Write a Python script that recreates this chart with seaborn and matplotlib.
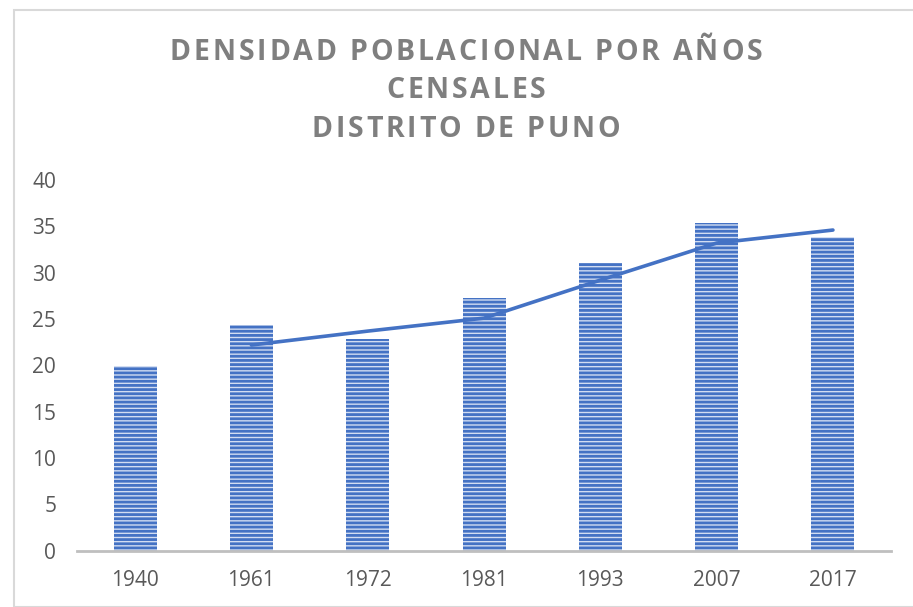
import numpy as np
import matplotlib
matplotlib.use("Agg")
import matplotlib.pyplot as plt
from matplotlib.patches import Rectangle
from matplotlib.textpath import TextToPath
from matplotlib.font_manager import FontProperties
import seaborn as sns

# Census years and population density (hab/km²), Distrito de Puno
years = ["1940", "1961", "1972", "1981", "1993", "2007", "2017"]
density = [19.9, 24.4, 22.9, 27.3, 31.0, 35.4, 33.9]

# Moving-average trend line (from 1961 onward)
trend_years = ["1961", "1972", "1981", "1993", "2007", "2017"]
trend = [22.2, 23.7, 25.1, 29.2, 33.2, 34.6]

title_lines = ["DENSIDAD POBLACIONAL POR AÑOS", "CENSALES", "DISTRITO DE PUNO"]
yticks = [0, 5, 10, 15, 20, 25, 30, 35, 40]

BLUE = "#4472c4"
TEXT_GRAY = "#595959"
TITLE_GRAY = "#7f7f7f"

sns.set_theme(style="white")
plt.rcParams["font.family"] = ["Open Sans", "DejaVu Sans"]
plt.rcParams["hatch.linewidth"] = 2.0

fig = plt.figure(figsize=(9.13, 6.07), dpi=100)
ax = fig.add_axes([0.0843, 0.0925, 0.8917, 0.611])

sns.barplot(x=years, y=density, width=0.37, color="#d2ddf2", saturation=1,
            ax=ax, zorder=2)
for bar in ax.patches:
    bar.set_hatch("----")
    bar.set_edgecolor(BLUE)
    bar.set_linewidth(0)

pos = [years.index(y) for y in trend_years]
sns.lineplot(x=pos, y=trend, color=BLUE, linewidth=2.6, ax=ax, zorder=3,
             solid_capstyle="round")

ax.set_xlim(-0.5, len(years) - 0.5)
ax.set_ylim(0, 40)
ax.set_yticks(yticks)
ax.set_yticklabels([str(v) for v in yticks])
ax.set_xticks(range(len(years)))
ax.set_xticklabels(years)
ax.tick_params(axis="both", length=0, labelsize=15, labelcolor=TEXT_GRAY)
ax.tick_params(axis="y", pad=15)
ax.tick_params(axis="x", pad=14)
ax.set_xlabel("")
ax.set_ylabel("")
ax.grid(False)
for side in ["top", "right", "left"]:
    ax.spines[side].set_visible(False)
ax.spines["bottom"].set_color("#bfbfbf")
ax.spines["bottom"].set_linewidth(2)
ax.spines["bottom"].set_zorder(4)

# Title drawn character by character to reproduce the wide letter spacing
prop = FontProperties(family="Open Sans", weight="bold", size=20.5)
t2p = TextToPath()
tracking = 2.0  # points between characters
W, H = fig.get_size_inches() * 72


def char_adv(ch):
    if ch == " ":
        w, _, _ = t2p.get_text_width_height_descent("a a", prop, ismath=False)
        w2, _, _ = t2p.get_text_width_height_descent("aa", prop, ismath=False)
        return w - w2
    w, _, _ = t2p.get_text_width_height_descent(ch, prop, ismath=False)
    return w


def tracked_text(s, xc, y):
    advs = [char_adv(c) for c in s]
    total = sum(advs) + tracking * (len(s) - 1)
    x = xc * W - total / 2
    for c, a in zip(s, advs):
        fig.text(x / W, y, c, fontproperties=prop, color=TITLE_GRAY,
                 ha="left", va="baseline")
        x += a + tracking


for line, yb in zip(title_lines, [60, 98, 137]):
    tracked_text(line, 466 / 913, 1 - yb / 607)

# Light chart-area border
fig.patches.append(Rectangle((13.5 / 913, 0), 2, 1 - 9.5 / 607,
                             transform=fig.transFigure, fill=False,
                             edgecolor="#d9d9d9", linewidth=1.5))

fig.savefig("out.png", dpi=100)
